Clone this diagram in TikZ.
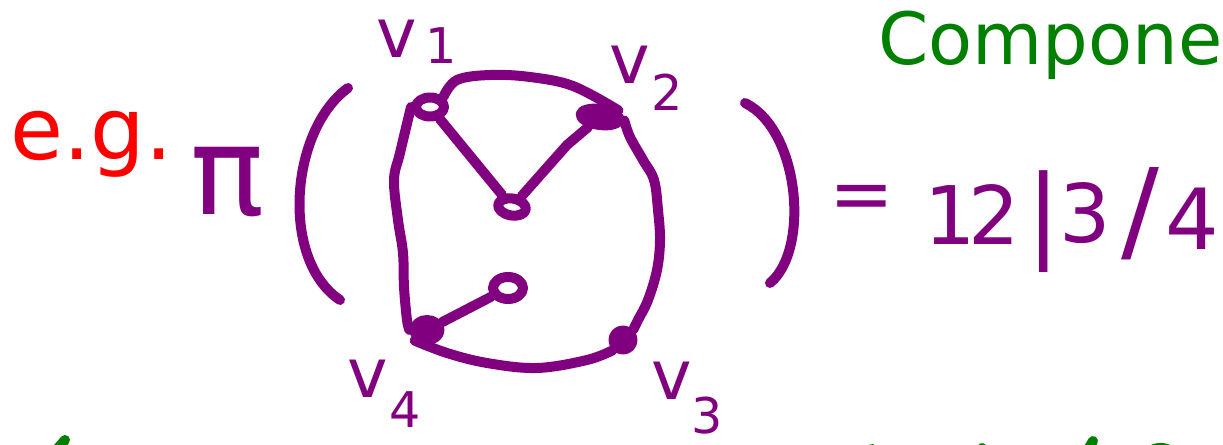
\documentclass[tikz,border=0pt]{standalone}
\usepackage{fontspec}
\setmainfont{DejaVu Sans}
\usetikzlibrary{shapes.geometric}
\definecolor{pen}{RGB}{128,0,128}
\definecolor{penred}{RGB}{255,0,0}
\definecolor{pengreen}{RGB}{0,128,0}
\newcommand{\fs}[1]{\fontsize{#1}{#1}\selectfont}
\begin{document}
\begin{tikzpicture}[x=0.02cm,y=-0.02cm,line cap=round,line join=round,
  stroke/.style={line width=0.2cm,draw=pen},
  gstroke/.style={line width=0.2cm,draw=pengreen},
  txt/.style={inner sep=0pt,text=pen},
  hollow/.style={ellipse,stroke,inner sep=0pt,fill=white},
  solid/.style={ellipse,stroke,inner sep=0pt,fill=pen},
  vlab/.style={inner sep=0pt,text=pen,anchor=base west,font=\fs{39}}]
\useasboundingbox (0,0) rectangle (1223,445);
\clip (0,0) rectangle (1223,445);

% e.g. and pi
\node[inner sep=0pt,anchor=base west,text=penred,font=\fs{49}] (eg) at (10,160) {e.g.};
\node[txt,anchor=base,font=\fs{70}] (pi) at (228,215) {π};

% parentheses
\coordinate (lpt) at (348,88);
\coordinate (lpb) at (340,300);
\coordinate (rpt) at (745,103);
\coordinate (rpb) at (770,283);
\draw[stroke] (lpt) .. controls (290,130) and (280,260) .. (lpb);
\draw[stroke] (rpt) .. controls (800,130) and (810,250) .. (rpb);

% vertices
\node[hollow,minimum width=0.56cm,minimum height=0.38cm] (v1) at (430,107) {};
\node[solid,minimum width=0.78cm,minimum height=0.32cm,rotate=-8] (v2) at (600,117) {};
\node[hollow,minimum width=0.56cm,minimum height=0.34cm,rotate=-10] (c) at (512,207) {};
\node[hollow,minimum width=0.6cm,minimum height=0.44cm] (n5) at (508,288) {};
\node[solid,minimum width=0.5cm,minimum height=0.4cm] (v4) at (427,330) {};
\node[circle,stroke,fill=pen,inner sep=0pt,minimum size=0.38cm] (v3) at (623,340) {};

% outer loop
\draw[stroke] plot[smooth,tension=0.6] coordinates {(v1.north east) (457,80) (490,75) (530,77) (573,86) (v2.north east)};
\draw[stroke] plot[smooth,tension=0.6] coordinates {(v2.east) (630,137) (643,160) (654,180) (658,210) (660,240) (657,270) (648,300) (638,320) (v3.north east)};
\draw[stroke] plot[smooth,tension=0.6] coordinates {(v3.south west) (587,360) (537,368) (487,363) (447,353) (v4.south west)};
\draw[stroke] plot[smooth,tension=0.6] coordinates {(v4.west) (407,320) (404,287) (403,253) (398,220) (394,180) (400,153) (v1.west)};

% inner edges
\draw[stroke] (v1) -- (c);
\draw[stroke] (c) -- (567,145) -- (v2);
\draw[stroke] (v4) -- (n5);

% vertex labels
\node[vlab] (l1) at (376,58) {v\hspace{5pt}\raisebox{-3pt}{\fs{28}1}};
\node[vlab] (l2) at (609,84) {v\hspace{1pt}\raisebox{-15pt}{\fs{28}2}};
\node[vlab] (l4) at (347,398) {v\hspace{1pt}\raisebox{-17pt}{\fs{28}4}};
\node[vlab] (l3) at (651,400) {v\raisebox{-19pt}{\fs{28}3}};

% = 12 | 3 / 4
\node[txt,font=\fs{44}] (eq) at (862,203) {=};
\node[txt,anchor=base,font=\fs{46}] (n12) at (972,245) {1\kern-4pt2};
\node[txt,font=\fs{58}] (bar) at (1044,222) {|};
\node[txt,anchor=base,font=\fs{46}] (n3) at (1085,243) {3};
\node[txt,font=\fs{64}] (sl) at (1140,214) {/};
\node[txt,anchor=base,font=\fs{48}] (n4) at (1192,250) {4};

% Component (cut)
\node[inner sep=0pt,anchor=base west,text=pengreen,font=\fs{41}] (comp) at (878,65) {Compone};

% green strokes cut by the bottom edge
\draw[gstroke] (52,455) -- (65,440);
\draw[gstroke] (862,456) -- (872,449);
\draw[gstroke] (978,456) -- (982,448);
\draw[gstroke] (1084,456) -- (1093,441);
\draw[gstroke] (1145,456) .. controls (1152,446) and (1165,446) .. (1172,452);
\end{tikzpicture}
\end{document}
